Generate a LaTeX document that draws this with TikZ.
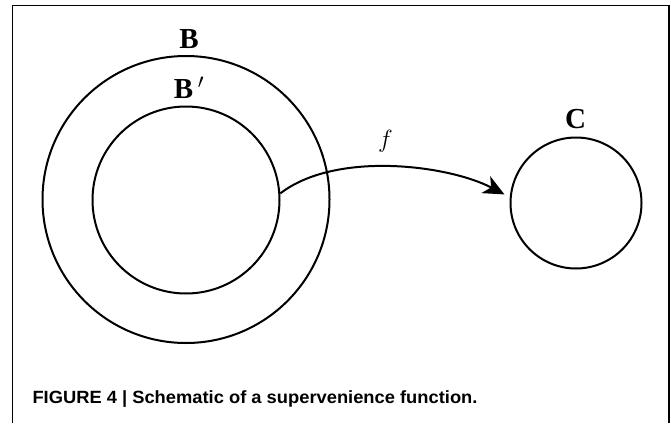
\documentclass[tikz,border=0pt]{standalone}
\usepackage{fontspec}
\setmainfont{Liberation Serif}
\newfontfamily\capfont{Liberation Sans}
\usetikzlibrary{arrows.meta}
\begin{document}
\begin{tikzpicture}[x=1pt,y=1pt,
  ring/.style={circle,draw,line width=2pt,inner sep=0pt},
  setlabel/.style={font=\bfseries\fontsize{29}{31}\selectfont,inner sep=0pt},
  frameline/.style={line width=1.2pt}]
\useasboundingbox (0,0) rectangle (671,-423);
\draw[frameline] (12.7,-423) -- (12.7,-5.7) -- (669,-5.7) -- (669,-423);
\node[ring,minimum size=287pt] (B) at (186,-199.5) {};
\node[ring,minimum size=187pt] (Bp) at (186,-200) {};
\node[ring,minimum size=131pt] (C) at (576,-203) {};
\node[setlabel,anchor=base] (LB) at (189,-48) {B};
\node[setlabel,anchor=base] (LBp) at (189,-98) {B\,$'$};
\node[setlabel,anchor=base] (LC) at (575.5,-128.3) {C};
\draw[line width=2pt,-{Stealth[length=21pt,width=19pt,inset=6pt]},shorten >=6pt]
  (Bp.4) .. controls +(56,43) and +(-61,32) .. (C.175);
\node[font=\fontsize{26}{28}\selectfont,inner sep=0pt] (F) at (385.5,-141.5) {$f$};
\node[anchor=base west,inner sep=0pt] (CAP) at (32.3,-403.3)
  {\resizebox{445pt}{\height}{\capfont\bfseries\fontsize{17.7}{20}\selectfont FIGURE 4 | Schematic of a supervenience function.}};
\end{tikzpicture}
\end{document}
